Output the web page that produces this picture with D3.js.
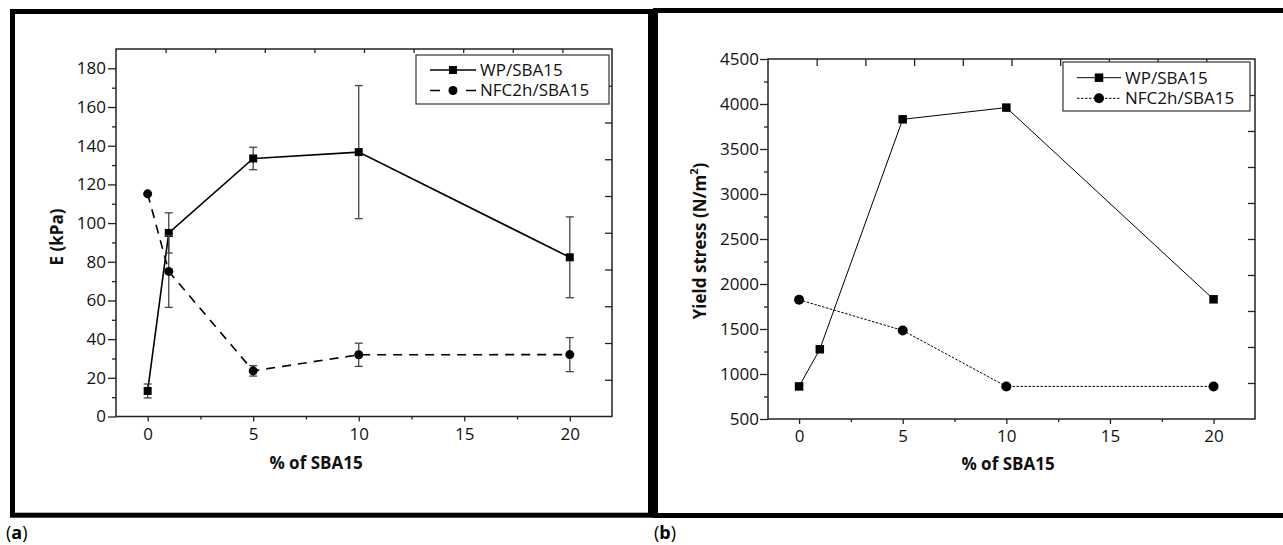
<!DOCTYPE html>
<html><head><meta charset="utf-8">
<script src="https://cdn.jsdelivr.net/npm/d3@7"></script>
<style>html,body{margin:0;padding:0;background:#fff;}svg{display:block;}</style>
</head><body>
<script>
// ---------- data ----------
const seriesNames = ["WP/SBA15", "NFC2h/SBA15"];
const xTicks = [0, 5, 10, 15, 20];

// panel (a): E (kPa)
const aX_WP = [0, 1, 5, 10, 20];
const aE_WP = [13.2, 94.9, 133.4, 136.7, 82.3];
const aE_WP_err = [3.6, 10.4, 5.8, 34.4, 20.9];
const aX_NFC = [0, 1, 5, 10, 20];
const aE_NFC = [115.1, 75.0, 23.6, 31.9, 32.0];
const aE_NFC_err = [0, 18.6, 2.7, 6.0, 8.8];
const aYTicks = [0, 20, 40, 60, 80, 100, 120, 140, 160, 180];

// panel (b): Yield stress (N/m2)
const bX_WP = [0, 1, 5, 10, 20];
const bY_WP = [862, 1275, 3830, 3960, 1830];
const bX_NFC = [0, 5, 10, 20];
const bY_NFC = [1825, 1484, 862, 862];
const bYTicks = [500, 1000, 1500, 2000, 2500, 3000, 3500, 4000, 4500];

const FONT = "'Open Sans', 'Noto Sans', sans-serif";
const svg = d3.select("body").append("svg").attr("width", 1283).attr("height", 545);

// outer frames
svg.append("rect").attr("x", 12.5).attr("y", 11.5).attr("width", 638).attr("height", 503.7)
  .attr("fill", "none").attr("stroke", "#000").attr("stroke-width", 5);
svg.append("rect").attr("x", 655.5).attr("y", 10.5).attr("width", 700).attr("height", 505)
  .attr("fill", "none").attr("stroke", "#000").attr("stroke-width", 5);

// panel labels
function panelLabel(x, letter) {
  const t = svg.append("text").attr("x", x).attr("y", 539).attr("font-family", FONT)
    .attr("font-size", 18).attr("fill", "#000");
  t.append("tspan").text("(");
  t.append("tspan").attr("font-weight", "bold").text(letter);
  t.append("tspan").text(")");
}
panelLabel(6, "a");
panelLabel(654, "b");

function styleAxis(g) {
  g.attr("font-family", FONT).attr("font-size", 17);
  g.selectAll("path.domain").remove();
  g.selectAll("line").attr("stroke", "#222").attr("stroke-width", 1.3);
  g.selectAll("text").attr("fill", "#111");
}

function drawPanel(cfg) {
  const { L, R, T, B } = cfg;
  const x = d3.scaleLinear().domain([-1.5, 22]).range([L, R]);
  const y = d3.scaleLinear().domain(cfg.yDomain).range([B, T]);
  const g = svg.append("g");

  // bottom axis
  g.append("g").attr("transform", `translate(0,${B})`)
    .call(d3.axisBottom(x).tickValues(xTicks).tickSize(5).tickPadding(cfg.xPad).tickFormat(d3.format("d")))
    .call(styleAxis);
  g.append("g").attr("transform", `translate(0,${B})`)
    .call(d3.axisBottom(x).tickValues([2.5, 7.5, 12.5, 17.5]).tickSize(3).tickFormat(""))
    .call(styleAxis);
  // left axis
  g.append("g").attr("transform", `translate(${L},0)`)
    .call(d3.axisLeft(y).tickValues(cfg.yTicks).tickSize(8).tickPadding(cfg.yPad).tickFormat(d3.format("d")))
    .call(styleAxis);
  g.append("g").attr("transform", `translate(${L},0)`)
    .call(d3.axisLeft(y).tickValues(cfg.yMinor).tickSize(4).tickFormat(""))
    .call(styleAxis);
  // top & right inward ticks (10 divisions)
  const div = d3.range(1, 10);
  const xt = d3.scaleLinear().domain([0, 10]).range([L, R]);
  const yr = d3.scaleLinear().domain([0, 10]).range([B, T]);
  g.append("g").attr("transform", `translate(0,${T})`)
    .call(d3.axisTop(xt).tickValues(div).tickSize(-cfg.topTick).tickFormat(""))
    .call(styleAxis);
  g.append("g").attr("transform", `translate(${R},0)`)
    .call(d3.axisRight(yr).tickValues(div).tickSize(-7).tickFormat(""))
    .call(styleAxis);
  // plot box
  g.append("rect").attr("x", L).attr("y", T).attr("width", R - L).attr("height", B - T)
    .attr("fill", "none").attr("stroke", "#222").attr("stroke-width", 1.5);

  // axis titles
  g.append("text").attr("x", cfg.xTitleX).attr("y", cfg.xTitleY).attr("text-anchor", "middle")
    .attr("font-family", FONT).attr("font-weight", "bold").attr("font-size", 17).attr("fill", "#111")
    .text("% of SBA15");
  const yt = g.append("text")
    .attr("transform", `translate(${cfg.yTitleX},${cfg.yTitleY}) rotate(-90)`)
    .attr("text-anchor", "middle").attr("font-family", FONT).attr("font-weight", "bold")
    .attr("font-size", 17).attr("fill", "#111");
  cfg.yTitle(yt);

  // series
  cfg.series.forEach(s => {
    const pts = s.xs.map((v, i) => ({ x: v, y: s.ys[i], e: s.err ? s.err[i] : 0 }));
    g.append("path").datum(pts)
      .attr("d", d3.line().x(d => x(d.x)).y(d => y(d.y)))
      .attr("fill", "none").attr("stroke", "#000").attr("stroke-width", s.lw)
      .attr("stroke-dasharray", s.dash);
    // error bars
    const eb = pts.filter(d => d.e > 0);
    const eg = g.append("g").attr("stroke", "#444").attr("stroke-width", 1.3);
    eg.selectAll("line.v").data(eb).join("line")
      .attr("x1", d => x(d.x)).attr("x2", d => x(d.x))
      .attr("y1", d => y(d.y - d.e)).attr("y2", d => y(d.y + d.e));
    eg.selectAll("line.t").data(eb).join("line")
      .attr("x1", d => x(d.x) - 4).attr("x2", d => x(d.x) + 4)
      .attr("y1", d => y(d.y + d.e)).attr("y2", d => y(d.y + d.e));
    eg.selectAll("line.b").data(eb).join("line")
      .attr("x1", d => x(d.x) - 4).attr("x2", d => x(d.x) + 4)
      .attr("y1", d => y(d.y - d.e)).attr("y2", d => y(d.y - d.e));
    // markers
    if (s.marker === "square") {
      g.selectAll(null).data(pts).join("rect")
        .attr("x", d => x(d.x) - s.ms / 2).attr("y", d => y(d.y) - s.ms / 2)
        .attr("width", s.ms).attr("height", s.ms).attr("fill", "#000");
    } else {
      g.selectAll(null).data(pts).join("circle")
        .attr("cx", d => x(d.x)).attr("cy", d => y(d.y)).attr("r", s.ms / 2).attr("fill", "#000");
    }
  });

  // legend
  const lg = cfg.legend;
  g.append("rect").attr("x", lg.x).attr("y", lg.y).attr("width", lg.w).attr("height", lg.h)
    .attr("fill", "#fff").attr("stroke", "#333").attr("stroke-width", 1.2);
  cfg.series.forEach((s, i) => {
    const ly = lg.rows[i];
    g.append("line").attr("x1", lg.x1).attr("x2", lg.x2).attr("y1", ly).attr("y2", ly)
      .attr("stroke", "#000").attr("stroke-width", s.lw).attr("stroke-dasharray", s.legDash || s.dash);
    const cx = (lg.x1 + lg.x2) / 2;
    if (s.marker === "square") {
      g.append("rect").attr("x", cx - s.ms / 2).attr("y", ly - s.ms / 2).attr("width", s.ms).attr("height", s.ms);
    } else {
      g.append("circle").attr("cx", cx).attr("cy", ly).attr("r", s.ms / 2);
    }
    g.append("text").attr("x", lg.tx).attr("y", ly).attr("dy", "0.35em")
      .attr("font-family", FONT).attr("font-size", 17).attr("fill", "#111").text(seriesNames[i]);
  });
}

drawPanel({
  L: 116, R: 612, T: 49, B: 416.5,
  yDomain: [0, 190], yTicks: aYTicks, yMinor: d3.range(10, 180, 20),
  xPad: 6, yPad: 2, topTick: 4,
  xTitleX: 316, xTitleY: 469,
  yTitleX: 63, yTitleY: 237,
  yTitle: t => t.text("E (kPa)"),
  series: [
    { xs: aX_WP, ys: aE_WP, err: aE_WP_err, marker: "square", ms: 8, lw: 1.6, dash: null },
    { xs: aX_NFC, ys: aE_NFC, err: aE_NFC_err, marker: "circle", ms: 9, lw: 1.6, dash: "9,7", legDash: "10,26" }
  ],
  legend: { x: 416, y: 55, w: 193, h: 49, rows: [70, 90.5], x1: 430, x2: 476, tx: 480 }
});

drawPanel({
  L: 768, R: 1255, T: 59, B: 419,
  yDomain: [500, 4500], yTicks: bYTicks, yMinor: d3.range(750, 4500, 500),
  xPad: 6, yPad: 1, topTick: 7,
  xTitleX: 1008, xTitleY: 470,
  yTitleX: 706, yTitleY: 241,
  yTitle: t => {
    t.append("tspan").text("Yield stress (N/m");
    t.append("tspan").attr("font-size", 11).attr("dy", "-0.7em").text("2");
    t.append("tspan").attr("dy", "0.45em").text(")");
  },
  series: [
    { xs: bX_WP, ys: bY_WP, marker: "square", ms: 8.5, lw: 1, dash: null },
    { xs: bX_NFC, ys: bY_NFC, marker: "circle", ms: 10, lw: 1, dash: "2.5,1.5" }
  ],
  legend: { x: 1063, y: 62, w: 187, h: 49, rows: [77.7, 98.3], x1: 1077, x2: 1121, tx: 1125 }
});
</script>
</body></html>
